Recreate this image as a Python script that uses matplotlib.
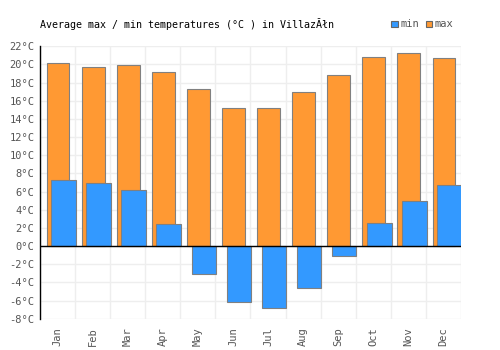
import numpy as np
import matplotlib
matplotlib.use("Agg")
import matplotlib.pyplot as plt
from matplotlib.patches import Rectangle

months = ["Jan", "Feb", "Mar", "Apr", "May", "Jun",
          "Jul", "Aug", "Sep", "Oct", "Nov", "Dec"]
t_max = [20.1, 19.7, 19.9, 19.2, 17.3, 15.2, 15.2, 17.0, 18.8, 20.8, 21.2, 20.7]
t_min = [7.3, 7.0, 6.2, 2.4, -3.1, -6.1, -6.8, -4.6, -1.1, 2.6, 5.0, 6.7]
y_ticks = list(range(-8, 23, 2))

plt.rcParams['font.family'] = ['DejaVu Sans Mono']
plt.rcParams['font.size'] = 7.5

fig = plt.figure(figsize=(5, 3.5), dpi=100)
ax = fig.add_axes([0.08, 0.089, 0.842, 0.779])

x = np.arange(len(months))
ax.bar(x - 0.31, t_max, width=0.65, align='edge', color='#ff9933',
       edgecolor='#808080', linewidth=0.8, zorder=2)
ax.bar(x - 0.18, t_min, width=0.70, align='edge', color='#3399ff',
       edgecolor='#808080', linewidth=0.8, zorder=3)

ax.set_xlim(-0.5, 11.5)
ax.set_ylim(-8, 22)
ax.set_yticks(y_ticks)
ax.set_yticklabels([f"{v}°C" for v in y_ticks])
ax.set_xticks(x)
ax.set_xticklabels(months, rotation=90)
ax.set_xticks(np.arange(-0.5, 12, 1), minor=True)

ax.grid(True, which='major', axis='y', color='#eeeeee', linewidth=1, zorder=0)
ax.grid(True, which='minor', axis='x', color='#eeeeee', linewidth=1, zorder=0)
ax.tick_params(which='both', length=0, colors='#555555', pad=4)
ax.tick_params(axis='x', pad=6)

for s in ['top', 'right', 'bottom']:
    ax.spines[s].set_visible(False)
ax.spines['left'].set_color('black')
ax.spines['left'].set_linewidth(1)
ax.axhline(0, color='black', linewidth=1, zorder=4)

fig.text(0.08, 0.931, "Average max / min temperatures (°C ) in VillazĂłn",
         ha='left', va='center', color='black', fontsize=7.2)

# legend
fig.patches.append(Rectangle((0.782, 0.922), 0.013, 0.018, transform=fig.transFigure,
                             facecolor='#3399ff', edgecolor='#666666', linewidth=0.8))
fig.text(0.801, 0.931, "min", ha='left', va='center', color='#555555')
fig.patches.append(Rectangle((0.851, 0.922), 0.013, 0.018, transform=fig.transFigure,
                             facecolor='#ff9933', edgecolor='#666666', linewidth=0.8))
fig.text(0.869, 0.931, "max", ha='left', va='center', color='#555555')

fig.savefig("out.png", dpi=100)
